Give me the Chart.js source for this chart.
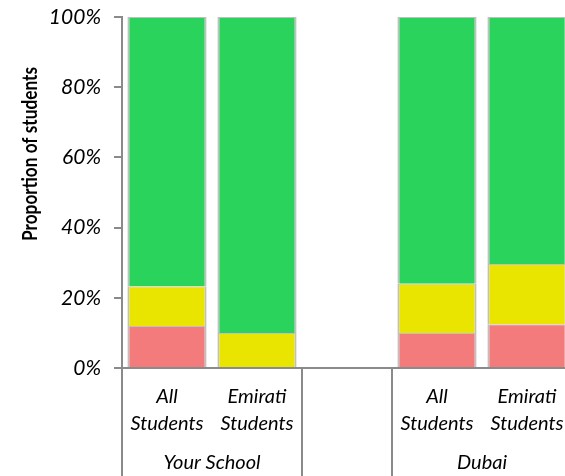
<!DOCTYPE html>
<html>
<head>
<meta charset="utf-8">
<script src="https://cdn.jsdelivr.net/npm/chart.js@4"></script>
<style>
    html, body { margin: 0; padding: 0; background: #fff; overflow: hidden; }
    #wrap { width: 572px; height: 476px; }
</style>
</head>
<body>
<div id="wrap"><canvas id="chartTyLe"></canvas></div>
<script>
// categories (middle one is an empty spacer)
const categories = [['All', 'Students'], ['Emirati', 'Students'], '', ['All', 'Students'], ['Emirati', 'Students']];
const groups = ['Your School', '', 'Dubai'];
const groupSpans = [[0, 1], [2, 2], [3, 4]];

// % of students per band
const redValues = [12, null, null, 10, 12.5];
const yellowValues = [11.3, 10, null, 14, 17.1];
const greenValues = [76.7, 90, null, 76, 70.4];

const yTicks = [0, 20, 40, 60, 80, 100];

const axisColor = '#8a8a8a';
const fontName = 'Lato, "Open Sans", sans-serif';

// vertical lines between groups + group names + y title
const groupAxis = {
    id: 'groupAxis',
    afterDraw(chart) {
        const { ctx, chartArea, scales: { x } } = chart;
        const half = (x.getPixelForValue(1) - x.getPixelForValue(0)) / 2;
        ctx.save();
        ctx.strokeStyle = axisColor;
        ctx.lineWidth = 2;
        const edges = [x.getPixelForValue(0) - half];
        groupSpans.forEach(s => edges.push(x.getPixelForValue(s[1]) + half));
        edges.forEach(px => {
            ctx.beginPath();
            ctx.moveTo(Math.round(px), chartArea.bottom);
            ctx.lineTo(Math.round(px), chart.height);
            ctx.stroke();
        });

        ctx.fillStyle = '#000';
        ctx.font = 'italic 20px ' + fontName;
        ctx.textAlign = 'center';
        ctx.textBaseline = 'middle';
        groups.forEach((g, i) => {
            const s = groupSpans[i];
            const cx = (x.getPixelForValue(s[0]) + x.getPixelForValue(s[1])) / 2;
            ctx.fillText(g, cx, 463);
        });

        // axis title, squeezed a little so it keeps its length
        const title = 'Proportion of students';
        ctx.translate(31, 154);
        ctx.rotate(-Math.PI / 2);
        ctx.font = 'bold 20px ' + fontName;
        const w = ctx.measureText(title).width;
        ctx.scale(Math.min(1, 174 / w), 1);
        ctx.fillText(title, 0, 0);
        ctx.restore();
    }
};

const bw = { top: 1, bottom: 1, left: 2, right: 2 };

new Chart(document.getElementById('chartTyLe'), {
    type: 'bar',
    data: {
        labels: categories,
        datasets: [
            { label: 'Red', data: redValues, backgroundColor: '#f47b7b', borderColor: '#c0c0c0', borderWidth: bw },
            { label: 'Yellow', data: yellowValues, backgroundColor: '#e9e500', borderColor: '#c0c0c0', borderWidth: bw },
            { label: 'Green', data: greenValues, backgroundColor: '#2ad35c', borderColor: '#c0c0c0', borderWidth: bw }
        ]
    },
    options: {
        responsive: true,
        maintainAspectRatio: false,
        animation: false,
        categoryPercentage: 1,
        barPercentage: 0.88,
        layout: { padding: { top: 17, right: 0, left: 0, bottom: 0 } },
        plugins: {
            legend: { display: false },
            tooltip: { enabled: false }
        },
        scales: {
            x: {
                stacked: true,
                grid: { display: false },
                border: { display: true, color: axisColor, width: 2 },
                ticks: {
                    color: '#000',
                    font: { family: fontName, size: 20, style: 'italic', lineHeight: 1.35 },
                    padding: 7,
                    maxRotation: 0,
                    autoSkip: false
                },
                afterFit: (scale) => { scale.height = 108; }
            },
            y: {
                stacked: true,
                min: 0,
                max: 100,
                afterBuildTicks: (scale) => { scale.ticks = yTicks.map(v => ({ value: v })); },
                grid: { drawOnChartArea: false, color: axisColor, lineWidth: 2, tickLength: 8 },
                border: { display: true, color: axisColor, width: 2 },
                ticks: {
                    color: '#000',
                    padding: 13,
                    font: { family: fontName, size: 21, style: 'italic' },
                    callback: (v) => v + '%'
                },
                afterFit: (scale) => {
                    scale.width = 122;
                    scale.paddingTop = 0;
                    scale.paddingBottom = 0;
                }
            }
        }
    },
    plugins: [groupAxis]
});
</script>
</body>
</html>
